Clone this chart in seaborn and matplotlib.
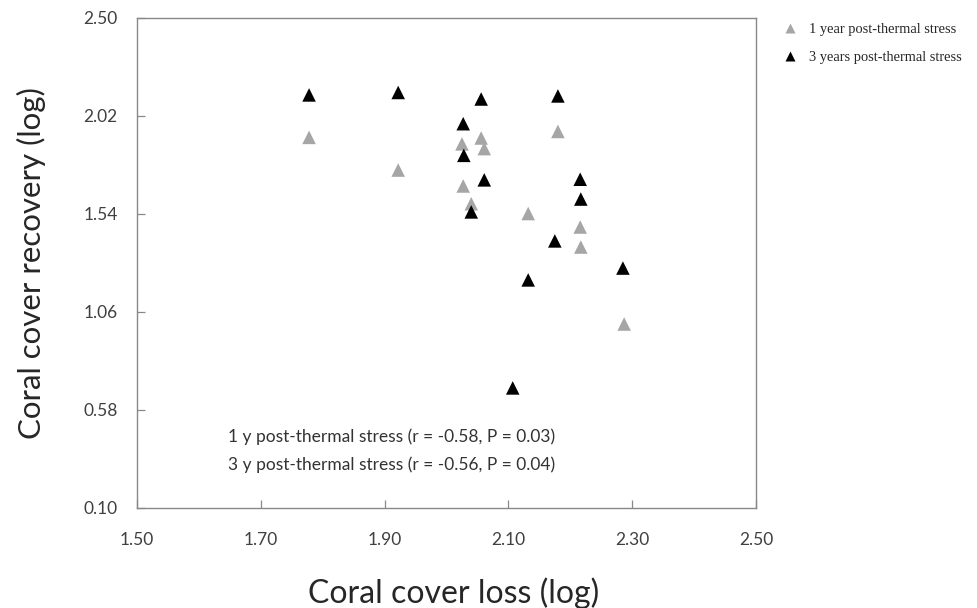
import matplotlib
matplotlib.use("Agg")
import matplotlib.pyplot as plt
import seaborn as sns
import pandas as pd

# Data
loss_1y = [1.778, 1.922, 2.025, 2.056, 2.061, 2.027, 2.040, 2.132, 2.180, 2.216, 2.217, 2.287]
rec_1y = [1.915, 1.755, 1.883, 1.912, 1.860, 1.677, 1.590, 1.542, 1.944, 1.476, 1.378, 1.001]
loss_3y = [1.778, 1.922, 2.056, 2.180, 2.027, 2.028, 2.061, 2.040, 2.216, 2.217, 2.175, 2.132, 2.285, 2.107]
rec_3y = [2.123, 2.135, 2.103, 2.118, 1.982, 1.827, 1.707, 1.550, 1.710, 1.613, 1.408, 1.217, 1.275, 0.688]
series_names = ["1 year post-thermal stress", "3 years post-thermal stress"]
x_ticks = [1.50, 1.70, 1.90, 2.10, 2.30, 2.50]
y_ticks = [0.10, 0.58, 1.06, 1.54, 2.02, 2.50]
annot_lines = ["1 y post-thermal stress (r = -0.58, P = 0.03)",
               "3 y post-thermal stress (r = -0.56, P = 0.04)"]

df = pd.DataFrame({
    "loss": loss_1y + loss_3y,
    "recovery": rec_1y + rec_3y,
    "series": [series_names[0]] * len(loss_1y) + [series_names[1]] * len(loss_3y),
})

sns.set_theme(style="white")
plt.rcParams['font.family'] = ['Lato', 'DejaVu Sans']

fig = plt.figure(figsize=(9.77, 6.08), dpi=100)
ax = fig.add_axes([0.1402, 0.1645, 0.6336, 0.806])

palette = {series_names[0]: "#a6a6a6", series_names[1]: "#000000"}
sns.scatterplot(data=df, x="loss", y="recovery", hue="series", palette=palette,
                marker="^", s=95, edgecolor="none", ax=ax, legend=True, zorder=3)

ax.set_xlim(1.50, 2.50)
ax.set_ylim(0.10, 2.50)
ax.set_xticks(x_ticks)
ax.set_yticks(y_ticks)
ax.set_xticklabels([f"{v:.2f}" for v in x_ticks])
ax.set_yticklabels([f"{v:.2f}" for v in y_ticks])
ax.tick_params(axis="both", which="major", bottom=True, left=True, direction="in",
               length=6, width=0.9, color="#888888",
               labelsize=12.5, labelcolor="#404040")
ax.tick_params(axis="x", pad=17)
ax.tick_params(axis="y", pad=14)
for sp in ax.spines.values():
    sp.set_color("#888888")
    sp.set_linewidth(1.0)

ax.set_xlabel("Coral cover loss (log)", fontsize=23, color="#262626")
ax.xaxis.set_label_coords(0.511, -0.141)
ax.set_ylabel("Coral cover recovery (log)", fontsize=22.5, color="#262626")
ax.yaxis.set_label_coords(-0.147, 0.5)

ax.text(0.147, 0.145, annot_lines[0], transform=ax.transAxes, fontsize=12.5, color="#333333",
        va="center", ha="left")
ax.text(0.147, 0.088, annot_lines[1], transform=ax.transAxes, fontsize=12.5, color="#333333",
        va="center", ha="left")

leg = ax.legend(loc="upper left", bbox_to_anchor=(1.022, 1.002), frameon=False,
                prop={"family": "Liberation Serif", "size": 10.4}, handletextpad=0.3,
                labelspacing=1.05, markerscale=0.8, borderaxespad=0)

fig.savefig("out.png", dpi=100)
